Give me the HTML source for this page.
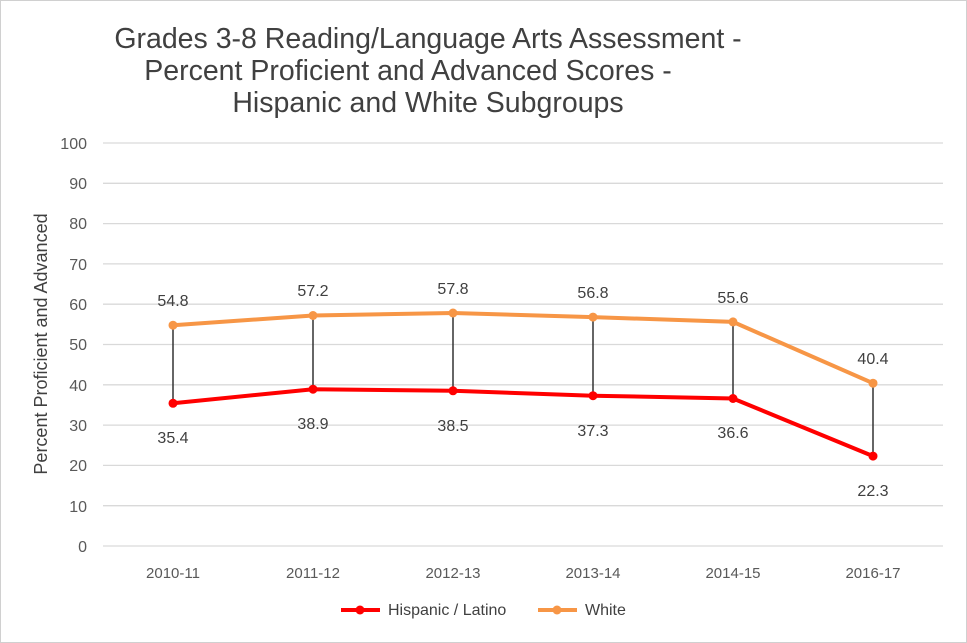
<!DOCTYPE html>
<html><head><meta charset="utf-8"><style>body{margin:0}svg{display:block}</style></head>
<body><svg width="967" height="643" xmlns="http://www.w3.org/2000/svg" font-family="Liberation Sans, sans-serif">
<rect x="0.5" y="0.5" width="966" height="642" fill="#fff" stroke="#d0d0d0"/>
<g font-size="28.5" fill="#404040" text-anchor="middle">
<text x="428" y="48">Grades 3-8 Reading/Language Arts Assessment -</text>
<text x="408" y="80">Percent Proficient and Advanced Scores -</text>
<text x="428" y="112">Hispanic and White Subgroups</text>
</g>
<g stroke="#d9d9d9" stroke-width="1.3">
<line x1="103" x2="943" y1="143" y2="143"/><line x1="103" x2="943" y1="183.3" y2="183.3"/><line x1="103" x2="943" y1="223.6" y2="223.6"/><line x1="103" x2="943" y1="263.9" y2="263.9"/><line x1="103" x2="943" y1="304.2" y2="304.2"/><line x1="103" x2="943" y1="344.5" y2="344.5"/><line x1="103" x2="943" y1="384.8" y2="384.8"/><line x1="103" x2="943" y1="425.1" y2="425.1"/><line x1="103" x2="943" y1="465.4" y2="465.4"/><line x1="103" x2="943" y1="505.7" y2="505.7"/><line x1="103" x2="943" y1="546" y2="546"/>
</g>
<g font-size="16" fill="#595959" text-anchor="end">
<text x="87" y="149">100</text><text x="87" y="189">90</text><text x="87" y="229">80</text><text x="87" y="270">70</text><text x="87" y="310">60</text><text x="87" y="350">50</text><text x="87" y="391">40</text><text x="87" y="431">30</text><text x="87" y="471">20</text><text x="87" y="512">10</text><text x="87" y="552">0</text>
</g>
<text transform="translate(47,344) rotate(-90)" font-size="18" fill="#404040" text-anchor="middle">Percent Proficient and Advanced</text>
<g font-size="15" fill="#595959" text-anchor="middle">
<text x="173" y="578">2010-11</text><text x="313" y="578">2011-12</text><text x="453" y="578">2012-13</text><text x="593" y="578">2013-14</text><text x="733" y="578">2014-15</text><text x="873" y="578">2016-17</text>
</g>
<g stroke="#333" stroke-width="1.5">
<line x1="173" x2="173" y1="325.2" y2="403.3"/><line x1="313" x2="313" y1="315.5" y2="389.2"/><line x1="453" x2="453" y1="313" y2="390.8"/><line x1="593" x2="593" y1="317.1" y2="395.7"/><line x1="733" x2="733" y1="321.9" y2="398.5"/><line x1="873" x2="873" y1="383.2" y2="456.1"/>
</g>
<polyline fill="none" stroke="#f79646" stroke-width="4" points="173,325.2 313,315.5 453,313 593,317.1 733,321.9 873,383.2"/>
<polyline fill="none" stroke="#ff0000" stroke-width="4" points="173,403.3 313,389.2 453,390.8 593,395.7 733,398.5 873,456.1"/>
<g fill="#f79646"><circle cx="173" cy="325.2" r="4.5"/><circle cx="313" cy="315.5" r="4.5"/><circle cx="453" cy="313" r="4.5"/><circle cx="593" cy="317.1" r="4.5"/><circle cx="733" cy="321.9" r="4.5"/><circle cx="873" cy="383.2" r="4.5"/></g>
<g fill="#ff0000"><circle cx="173" cy="403.3" r="4.5"/><circle cx="313" cy="389.2" r="4.5"/><circle cx="453" cy="390.8" r="4.5"/><circle cx="593" cy="395.7" r="4.5"/><circle cx="733" cy="398.5" r="4.5"/><circle cx="873" cy="456.1" r="4.5"/></g>
<g font-size="16" fill="#404040" text-anchor="middle">
<text x="173" y="306">54.8</text><text x="313" y="296">57.2</text><text x="453" y="294">57.8</text><text x="593" y="298">56.8</text><text x="733" y="303">55.6</text><text x="873" y="364">40.4</text>
<text x="173" y="443">35.4</text><text x="313" y="429">38.9</text><text x="453" y="431">38.5</text><text x="593" y="436">37.3</text><text x="733" y="438">36.6</text><text x="873" y="496">22.3</text>
</g>
<line x1="341" x2="380" y1="610" y2="610" stroke="#ff0000" stroke-width="4"/><circle cx="360" cy="610" r="4.5" fill="#ff0000"/>
<text x="388" y="615" font-size="16" fill="#404040">Hispanic / Latino</text>
<line x1="538" x2="577" y1="610" y2="610" stroke="#f79646" stroke-width="4"/><circle cx="557" cy="610" r="4.5" fill="#f79646"/>
<text x="585" y="615" font-size="16" fill="#404040">White</text>
</svg></body></html>
